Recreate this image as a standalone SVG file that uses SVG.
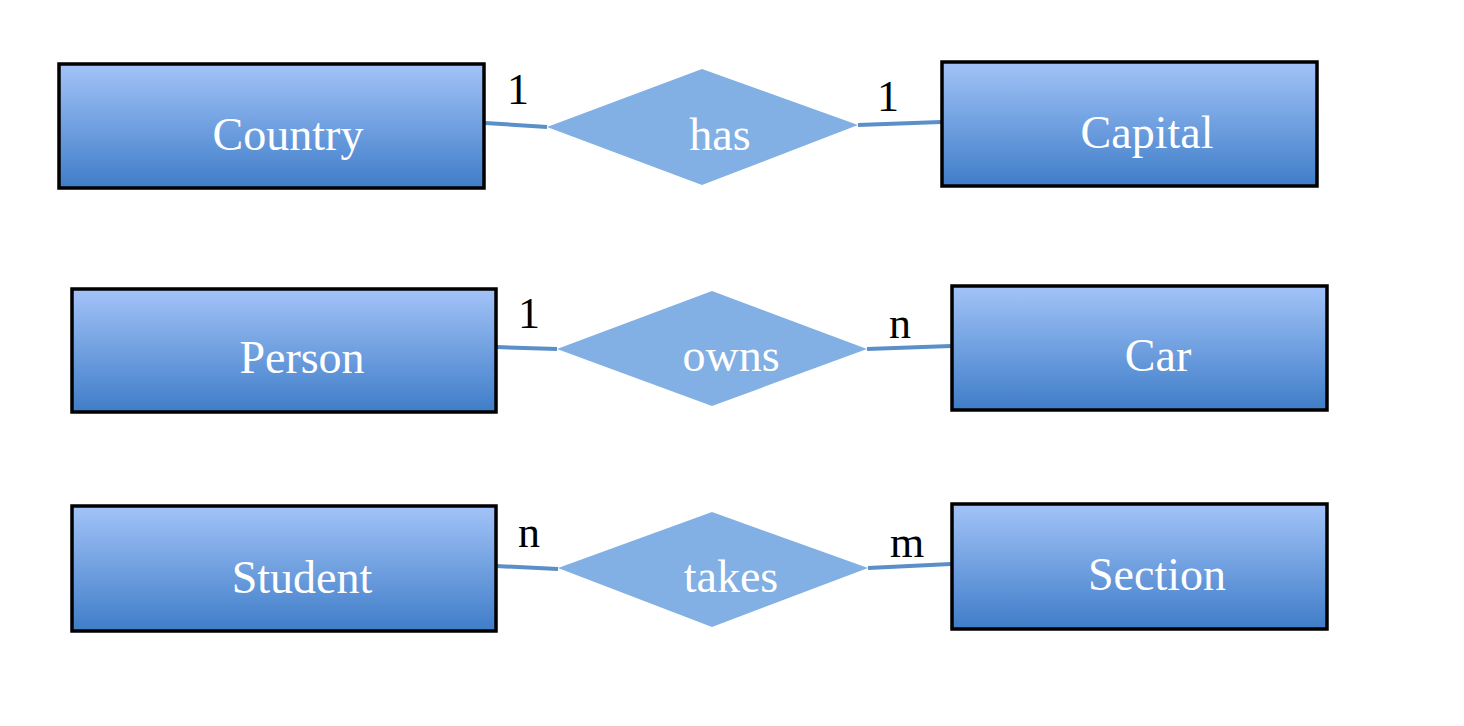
<svg xmlns="http://www.w3.org/2000/svg" width="1464" height="726" viewBox="0 0 1464 726">
<defs>
<linearGradient id="eg" x1="0" y1="0" x2="0" y2="1">
<stop offset="0" stop-color="#a2c3f8"/>
<stop offset="1" stop-color="#3f7dc8"/>
</linearGradient>
</defs>
<style>
.ent{fill:url(#eg);stroke:#000;stroke-width:3.5}
.rel{fill:#82b0e4}
.lbl{font-family:"Liberation Serif",serif;font-size:46px;fill:#fff;text-anchor:middle}
.card{font-family:"Liberation Serif",serif;font-size:44px;fill:#000;text-anchor:middle}
.conn line{stroke:#5b8fc8;stroke-width:4}
</style>
<rect width="1464" height="726" fill="#fff"/>
<g id="connectors" class="conn">
<line x1="485" y1="123" x2="547" y2="127"/>
<line x1="858" y1="125" x2="941" y2="122"/>
<line x1="496" y1="347" x2="557" y2="349"/>
<line x1="867" y1="349" x2="951" y2="346"/>
<line x1="496" y1="566" x2="558" y2="569"/>
<line x1="868" y1="568" x2="951" y2="564"/>
</g>
<g id="country"><rect class="ent" x="59" y="64" width="425" height="124"/><text class="lbl" x="288" y="150">Country</text></g>
<g id="has"><polygon class="rel" points="547,127 702,69 858,125 702,185"/><text class="lbl" x="720" y="150">has</text></g>
<g id="capital"><rect class="ent" x="942" y="62" width="375" height="124"/><text class="lbl" x="1147" y="148">Capital</text></g>
<g id="person"><rect class="ent" x="72" y="289" width="424" height="123"/><text class="lbl" x="302" y="373">Person</text></g>
<g id="owns"><polygon class="rel" points="557,349 712,291 867,349 712,406"/><text class="lbl" x="731" y="371">owns</text></g>
<g id="car"><rect class="ent" x="952" y="286" width="375" height="124"/><text class="lbl" x="1158" y="371">Car</text></g>
<g id="student"><rect class="ent" x="72" y="506" width="424" height="125"/><text class="lbl" x="302" y="593">Student</text></g>
<g id="takes"><polygon class="rel" points="558,568 712,512 868,568 712,627"/><text class="lbl" x="731" y="592">takes</text></g>
<g id="section"><rect class="ent" x="952" y="504" width="375" height="125"/><text class="lbl" x="1157" y="590">Section</text></g>
<g id="cardinalities">
<text class="card" x="518" y="104">1</text>
<text class="card" x="888" y="111">1</text>
<text class="card" x="529" y="328">1</text>
<text class="card" x="900" y="338">n</text>
<text class="card" x="529" y="547">n</text>
<text class="card" x="907" y="557">m</text>
</g>
</svg>
